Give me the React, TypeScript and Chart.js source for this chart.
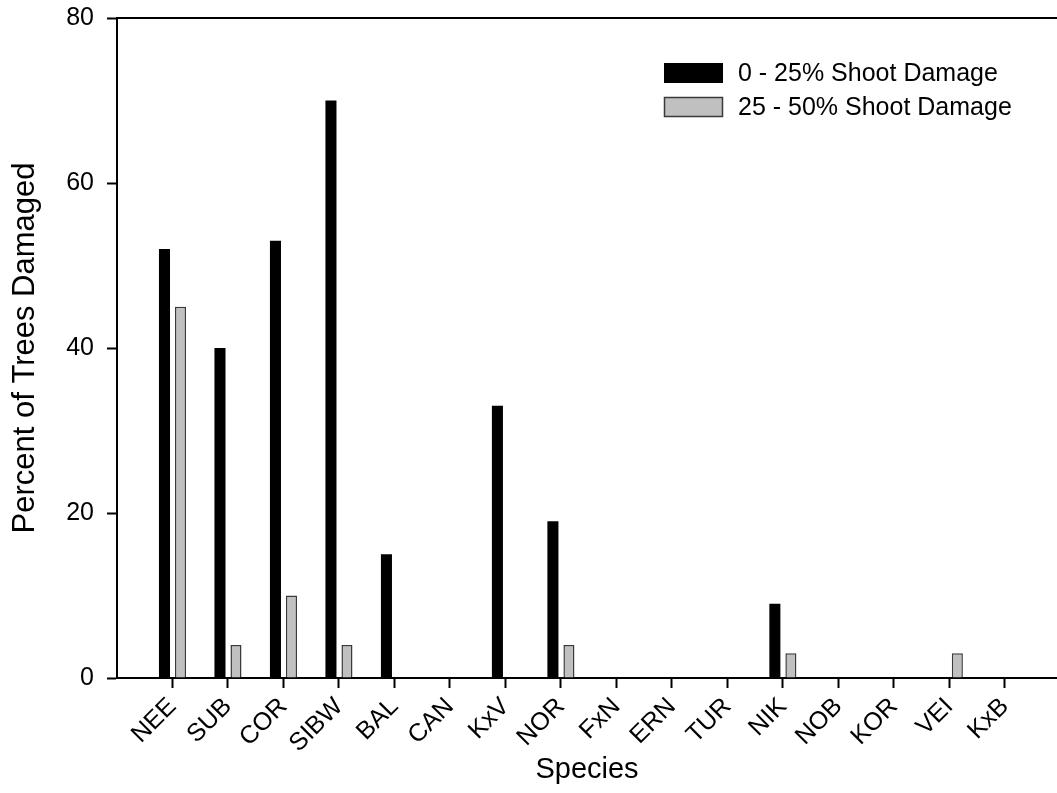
import React, { useEffect, useRef } from "react";
import { Chart, registerables } from "chart.js";

Chart.register(...registerables);

const categories = ["NEE", "SUB", "COR", "SIBW", "BAL", "CAN", "KxV", "NOR", "FxN", "ERN", "TUR", "NIK", "NOB", "KOR", "VEI", "KxB"];
const damage0to25 = [52, 40, 53, 70, 15, 0, 33, 19, 0, 0, 0, 9, 0, 0, 0, 0];
const damage25to50 = [45, 4, 10, 4, 0, 0, 0, 4, 0, 0, 0, 3, 0, 0, 3, 0];
const seriesLabels = ["0 - 25% Shoot Damage", "25 - 50% Shoot Damage"];
const yTicks = [0, 20, 40, 60, 80];

const FONT = "'Liberation Sans', Arial, Helvetica, sans-serif";

const topLinePlugin = {
  id: "topLine",
  afterDraw(chart: any) {
    const ctx = chart.ctx;
    const a = chart.chartArea;
    ctx.save();
    ctx.strokeStyle = "#000";
    ctx.lineWidth = 2;
    ctx.beginPath();
    ctx.moveTo(a.left, a.top);
    ctx.lineTo(chart.width, a.top);
    ctx.stroke();
    ctx.restore();
  },
};

const legendPlugin = {
  id: "customLegend",
  afterDraw(chart: any) {
    const ctx = chart.ctx;
    const boxX = 664;
    const boxW = 59;
    const boxH = 20;
    const rowY = [63, 97];
    ctx.save();
    chart.data.datasets.forEach((ds: any, i: number) => {
      const y = rowY[i];
      ctx.fillStyle = ds.backgroundColor;
      ctx.fillRect(boxX, y, boxW, boxH);
      if (ds.borderWidth) {
        ctx.strokeStyle = ds.borderColor;
        ctx.lineWidth = 1.5;
        ctx.strokeRect(boxX + 0.5, y + 0.5, boxW - 1, boxH - 1);
      }
      ctx.fillStyle = "#000";
      ctx.font = `25px ${FONT}`;
      ctx.textBaseline = "middle";
      ctx.textAlign = "left";
      ctx.fillText(ds.label, 738, y + boxH / 2 + 1);
    });
    ctx.restore();
  },
};

export default function App() {
  const ref = useRef<HTMLCanvasElement | null>(null);

  useEffect(() => {
    if (!ref.current) return;
    const chart = new Chart(ref.current, {
      type: "bar",
      data: {
        datasets: [
          {
            label: seriesLabels[0],
            data: damage0to25.map((v, i) => ({ x: i, y: v })),
            backgroundColor: "#000000",
            borderWidth: 0,
            categoryPercentage: 0.577,
            barPercentage: 0.69,
          },
          {
            label: seriesLabels[1],
            data: damage25to50.map((v, i) => ({ x: i, y: v })),
            backgroundColor: "#c0c0c0",
            borderColor: "#3a3a3a",
            borderWidth: 1.5,
            categoryPercentage: 0.577,
            barPercentage: 0.69,
          },
        ] as any,
      },
      options: {
        animation: false,
        responsive: false,
        events: [],
        layout: { padding: { top: 18, left: 0, right: 0, bottom: 0 } },
        plugins: {
          legend: { display: false },
          tooltip: { enabled: false },
        },
        scales: {
          x: {
            type: "linear",
            min: -1,
            max: 15.94,
            offset: false,
            grid: {
              display: true,
              offset: false,
              drawOnChartArea: false,
              drawTicks: true,
              tickLength: 10,
              tickColor: "#000",
              tickWidth: 2,
            },
            border: { display: true, color: "#000", width: 2 },
            ticks: {
              stepSize: 1,
              autoSkip: false,
              minRotation: 45,
              maxRotation: 45,
              color: "#000",
              padding: 4,
              font: { family: FONT, size: 25 },
              callback: (v: any) => categories[v] ?? "",
            },
            afterBuildTicks: (scale: any) => {
              scale.ticks = categories.map((_, i) => ({ value: i }));
            },
            afterFit: (scale: any) => {
              scale.height = 115;
              scale.paddingLeft = 0;
              scale.paddingRight = 0;
            },
            title: {
              display: true,
              text: "Species",
              color: "#000",
              font: { family: FONT, size: 29 },
              padding: { top: 0, bottom: 6 },
            },
          },
          y: {
            type: "linear",
            min: 0,
            max: 80,
            grid: {
              display: true,
              drawOnChartArea: false,
              drawTicks: true,
              tickLength: 10,
              tickColor: "#000",
              tickWidth: 2,
            },
            border: { display: true, color: "#000", width: 2 },
            ticks: {
              stepSize: 20,
              color: "#000",
              padding: 13,
              font: { family: FONT, size: 25 },
            },
            afterBuildTicks: (scale: any) => {
              scale.ticks = yTicks.map((v) => ({ value: v }));
            },
            afterFit: (scale: any) => {
              scale.width = 117;
              scale.paddingTop = 0;
              scale.paddingBottom = 0;
            },
            title: {
              display: true,
              text: "Percent of Trees Damaged",
              color: "#000",
              font: { family: FONT, size: 31 },
              padding: { top: 7, bottom: 0 },
            },
          },
        },
      },
      plugins: [topLinePlugin, legendPlugin],
    } as any);
    return () => chart.destroy();
  }, []);

  return (
    <div style={{ position: "absolute", left: 0, top: 0, width: 1057, height: 793, background: "#fff" }}>
      <canvas ref={ref} width={1057} height={793} style={{ display: "block" }} />
    </div>
  );
}
